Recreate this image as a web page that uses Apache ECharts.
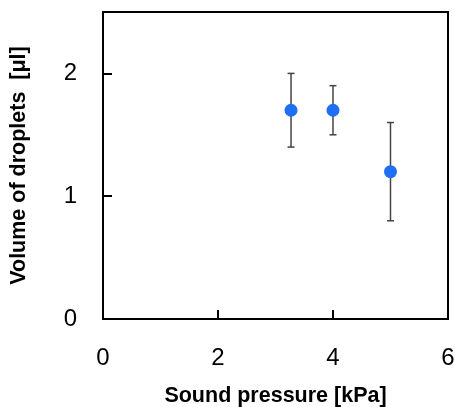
<!DOCTYPE html>
<html><head><meta charset="utf-8">
<script src="https://cdn.jsdelivr.net/npm/echarts@6/dist/echarts.min.js"></script>
<style>html,body{margin:0;padding:0;background:#fff}#c{width:455px;height:407px}</style>
</head><body><div id="c"></div>
<script>
var pressure = [3.27, 4.0, 5.0];
var volume = [1.7, 1.7, 1.2];
var errLow = [1.4, 1.5, 0.8];
var errHigh = [2.0, 1.9, 1.6];
var xTicks = [0, 2, 4, 6];
var yTicks = [0, 1, 2];

var chart = echarts.init(document.getElementById('c'), null, {renderer: 'canvas'});
var font = 'Liberation Sans, Arial, sans-serif';
chart.setOption({
  animation: false,
  grid: {left: 103, right: 7, top: 12, bottom: 88, show: true, borderColor: '#000', borderWidth: 2,
    backgroundColor: 'transparent', containLabel: false, outerBoundsMode: 'none'},
  xAxis: {
    type: 'value', min: 0, max: 6, interval: 2,
    name: 'Sound pressure [kPa]', nameLocation: 'middle', nameGap: 66,
    nameTextStyle: {fontFamily: font, fontSize: 21.5, fontWeight: 'bold', color: '#000'},
    axisLine: {show: true, lineStyle: {color: '#000', width: 2}},
    axisTick: {show: true, inside: true, length: 9, lineStyle: {color: '#000', width: 2}},
    axisLabel: {fontFamily: font, fontSize: 24, color: '#000', margin: 27,
      formatter: function(v){ return xTicks.indexOf(v) >= 0 ? String(v) : ''; }},
    splitLine: {show: false}
  },
  yAxis: {
    type: 'value', min: 0, max: 2.5, interval: 1,
    name: 'Volume of droplets  [\u03bcl]', nameLocation: 'middle', nameGap: 73,
    nameTextStyle: {fontFamily: font, fontSize: 21.5, fontWeight: 'bold', color: '#000'},
    axisLine: {show: true, lineStyle: {color: '#000', width: 2}},
    axisTick: {show: true, inside: true, length: 9, lineStyle: {color: '#000', width: 2}},
    axisLabel: {fontFamily: font, fontSize: 24, color: '#000', margin: 26,
      formatter: function(v){ return yTicks.indexOf(v) >= 0 ? String(v) : ''; }},
    splitLine: {show: false}
  },
  series: [
    {
      type: 'custom',
      data: pressure.map(function(x, i){ return [x, errLow[i], errHigh[i]]; }),
      renderItem: function(params, api){
        var lo = api.coord([api.value(0), api.value(1)]);
        var hi = api.coord([api.value(0), api.value(2)]);
        var hw = 3.5;
        var st = {stroke: '#444', lineWidth: 1.5};
        return {type: 'group', children: [
          {type: 'line', shape: {x1: lo[0], y1: lo[1], x2: hi[0], y2: hi[1]}, style: st},
          {type: 'line', shape: {x1: lo[0]-hw, y1: lo[1], x2: lo[0]+hw, y2: lo[1]}, style: st},
          {type: 'line', shape: {x1: hi[0]-hw, y1: hi[1], x2: hi[0]+hw, y2: hi[1]}, style: st}
        ]};
      },
      z: 2
    },
    {
      type: 'scatter',
      data: pressure.map(function(x, i){ return [x, volume[i]]; }),
      symbol: 'circle', symbolSize: 13,
      itemStyle: {color: '#1f6ff2', opacity: 1},
      z: 3
    }
  ]
});
</script></body></html>
